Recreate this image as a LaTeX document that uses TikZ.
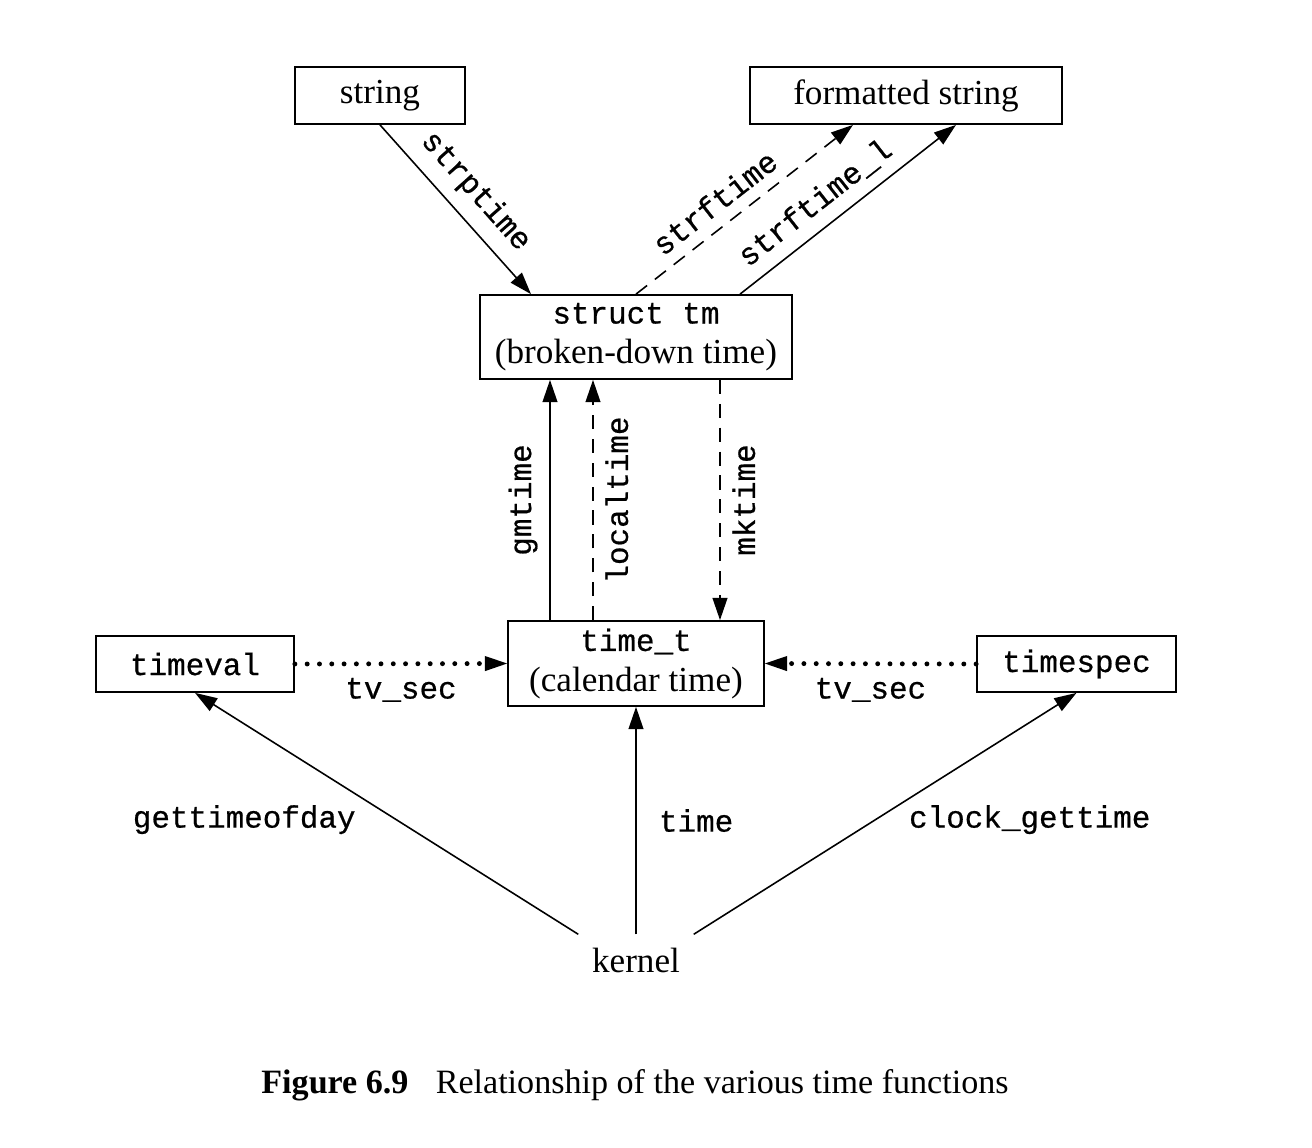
\documentclass[tikz,border=0pt]{standalone}
\usepackage{fontspec}
\setmainfont{Liberation Serif}
\setmonofont{Liberation Mono}[FakeBold=0.6]
\usetikzlibrary{arrows.meta, positioning}
\newcommand{\fname}[1]{{\fontsize{8.8pt}{11.4pt}\selectfont\ttfamily #1}}

\begin{document}
\begin{tikzpicture}[
  box/.style={draw, line width=0.5pt, inner sep=0pt, align=center,
              font=\fontsize{10pt}{11.4pt}\selectfont},
  fn/.style={font=\fontsize{8.8pt}{11pt}\selectfont\ttfamily},
  arr/.style={-{Triangle[length=6.3pt, width=4.2pt]}, line width=0.45pt},
  darr/.style={arr, dash pattern=on 4pt off 2.8pt},
  dotarr/.style={-{Triangle[length=6.3pt, width=4.2pt, line width=0.4pt]},
                 line width=1.4pt, line cap=round, dash pattern=on 0pt off 3.5pt},
]
\useasboundingbox (0,0) rectangle (13.12,-11.48);

% ---- Boxes -----------------------------------------------------------------
\node[box, minimum width=1.70cm, minimum height=0.57cm] (string) at (3.80,-0.955) {string};
\node[box, minimum width=3.12cm, minimum height=0.57cm] (fmt) at (9.06,-0.955) {formatted string};
\node[box, minimum width=3.12cm, minimum height=0.84cm] (tm) at (6.36,-3.37)
  {\fname{struct tm}\\(broken-down time)};
\node[box, minimum width=2.56cm, minimum height=0.85cm] (timet) at (6.36,-6.635)
  {\fname{time\_t}\\(calendar time)};
\node[box, fn, minimum width=1.98cm, minimum height=0.56cm] (timeval) at (1.95,-6.64) {timeval};
\node[box, fn, minimum width=1.99cm, minimum height=0.56cm] (timespec) at (10.765,-6.64) {timespec};
\node[font=\fontsize{10pt}{12pt}\selectfont, inner sep=0pt,
      minimum width=1.14cm, minimum height=0.5cm] (kernel) at (6.36,-9.60) {kernel};

% ---- String conversions ----------------------------------------------------
\draw[arr] (string.south) -- node[fn, sloped, above] {strptime} ([xshift=-1.05cm]tm.north);
\draw[darr] (tm.north) -- node[fn, sloped, above, pos=0.43] {strftime} ([xshift=-0.53cm]fmt.south);
\draw[arr] ([xshift=1.04cm]tm.north) -- node[fn, sloped, above, pos=0.42] {strftime\_l}
  ([xshift=0.50cm]fmt.south);

% ---- time_t <-> struct tm --------------------------------------------------
\draw[arr] ([xshift=-0.86cm]timet.north) -- node[fn, rotate=90, anchor=south] {gmtime}
  ([xshift=-0.86cm]tm.south);
\draw[darr] ([xshift=-0.43cm]timet.north) -- node[fn, rotate=90, anchor=north] {localtime}
  ([xshift=-0.43cm]tm.south);
\draw[darr] ([xshift=0.84cm]tm.south) -- node[fn, rotate=90, anchor=north] {mktime}
  ([xshift=0.84cm]timet.north);

% ---- Seconds fields --------------------------------------------------------
\draw[dotarr] (timeval.east) -- node[fn, below] {tv\_sec} (timet.west);
\draw[dotarr] (timespec.west) -- node[fn, below] {tv\_sec} (timet.east);

% ---- Kernel ----------------------------------------------------------------
\draw[arr] (kernel.north west) -- node[fn, pos=0.475, left=8pt] {gettimeofday} (timeval.south);
\draw[arr] (kernel.north) -- node[fn, right=3pt] {time} (timet.south);
\draw[arr] (kernel.north east) -- node[fn, pos=0.475, right=6pt] {clock\_gettime} (timespec.south);

% ---- Caption ---------------------------------------------------------------
\node[font=\fontsize{9.7pt}{12pt}\selectfont] (caption) at (6.35,-10.85)
  {\textbf{Figure 6.9}\hspace{0.8em}Relationship of the various time functions};

\end{tikzpicture}
\end{document}
